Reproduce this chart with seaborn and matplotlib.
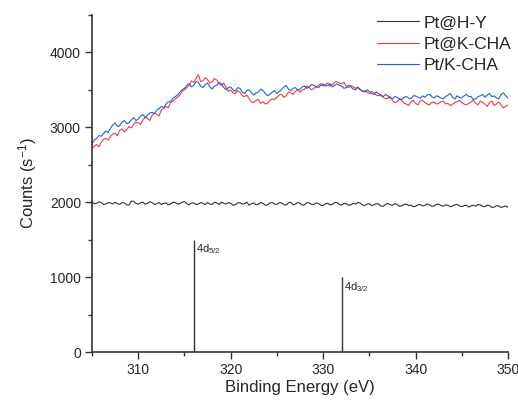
import numpy as np
import pandas as pd
import matplotlib
matplotlib.use("Agg")
import matplotlib.pyplot as plt
import seaborn as sns
from matplotlib.ticker import MultipleLocator

# binding energy grid (eV), 0.25 eV steps
energy = np.linspace(305, 350, 181)

pt_hy = [
    2000, 1980, 1985, 2005, 1995, 1970, 1975, 1995, 1990, 1975,
    2000, 1980, 1970, 1995, 1990, 1965, 1960, 2015, 2010, 1985,
    1975, 1990, 2000, 1975, 1985, 2005, 1995, 1970, 1980, 1995,
    1970, 1985, 1990, 1965, 1975, 2000, 1995, 1975, 1980, 2000,
    2010, 1980, 1965, 1990, 1990, 1970, 1975, 1995, 1985, 1970,
    1995, 1975, 1970, 2000, 1990, 1970, 2000, 1985, 1975, 1995,
    1985, 1960, 1965, 1990, 1995, 1975, 1980, 2000, 1960, 1980,
    1990, 1965, 1975, 1995, 1985, 1960, 1965, 1990, 1995, 1975,
    1970, 1995, 1990, 1970, 1960, 1990, 2000, 1965, 1975, 1995,
    1985, 1960, 1965, 1995, 1990, 1970, 1970, 1990, 1980, 1960,
    1955, 1980, 1985, 1965, 1970, 1995, 1995, 1970, 1960, 1985,
    1980, 1960, 1965, 1985, 1975, 1995, 1990, 1965, 1955, 1975,
    1980, 1955, 1965, 1980, 1975, 1950, 1945, 1970, 1985, 1965,
    1960, 1980, 1970, 1945, 1950, 1970, 1975, 1955, 1960, 1940,
    1945, 1965, 1970, 1950, 1955, 1975, 1965, 1945, 1950, 1970,
    1975, 1955, 1945, 1965, 1960, 1940, 1950, 1965, 1970, 1950,
    1940, 1955, 1960, 1935, 1950, 1960, 1945, 1970, 1965, 1945,
    1940, 1960, 1955, 1930, 1935, 1955, 1950, 1930, 1940, 1950,
    1930,
]

pt_kcha = [
    2710, 2750, 2770, 2740, 2800, 2840, 2850, 2830, 2880, 2910,
    2920, 2890, 2960, 2980, 2940, 2970, 3010, 2990, 3040, 3070,
    3060, 3040, 3100, 3130, 3120, 3090, 3160, 3190, 3170, 3150,
    3230, 3250, 3280, 3260, 3330, 3350, 3380, 3400, 3430, 3480,
    3500, 3530, 3560, 3620, 3600, 3650, 3700, 3610, 3620, 3660,
    3640, 3590, 3610, 3650, 3630, 3580, 3560, 3590, 3530, 3480,
    3500, 3460, 3450, 3490, 3470, 3420, 3410, 3430, 3380, 3340,
    3330, 3360, 3370, 3320, 3340, 3310, 3320, 3360, 3380, 3370,
    3400, 3430, 3440, 3400, 3420, 3470, 3460, 3440, 3480, 3500,
    3470, 3500, 3510, 3550, 3530, 3500, 3520, 3540, 3560, 3580,
    3550, 3570, 3590, 3550, 3570, 3600, 3610, 3590, 3580, 3600,
    3550, 3530, 3560, 3540, 3520, 3540, 3500, 3480, 3490, 3470,
    3450, 3480, 3460, 3430, 3420, 3440, 3400, 3380, 3390, 3410,
    3360, 3330, 3340, 3380, 3360, 3320, 3310, 3290, 3340, 3360,
    3320, 3300, 3350, 3360, 3330, 3310, 3300, 3330, 3340, 3310,
    3320, 3340, 3350, 3310, 3320, 3290, 3310, 3330, 3340, 3360,
    3330, 3310, 3300, 3320, 3340, 3360, 3320, 3300, 3350, 3330,
    3310, 3280, 3330, 3350, 3290, 3310, 3340, 3300, 3260, 3280,
    3300,
]

pt_on_kcha = [
    2780, 2830, 2850, 2890, 2880, 2920, 2950, 2930, 2990, 3030,
    3060, 3010, 3020, 3070, 3090, 3050, 3060, 3100, 3130, 3090,
    3110, 3150, 3170, 3130, 3160, 3190, 3200, 3180, 3230, 3250,
    3280, 3260, 3310, 3340, 3340, 3390, 3410, 3430, 3470, 3500,
    3520, 3560, 3580, 3540, 3560, 3610, 3600, 3550, 3530, 3570,
    3590, 3540, 3510, 3550, 3560, 3600, 3580, 3530, 3500, 3530,
    3540, 3500, 3480, 3530, 3520, 3470, 3450, 3490, 3500, 3460,
    3430, 3460, 3470, 3510, 3490, 3450, 3420, 3440, 3470, 3490,
    3450, 3480, 3500, 3540, 3560, 3510, 3490, 3520, 3530, 3500,
    3510, 3540, 3550, 3520, 3540, 3570, 3560, 3540, 3530, 3560,
    3580, 3550, 3560, 3580, 3540, 3560, 3580, 3560, 3550, 3520,
    3530, 3560, 3540, 3510, 3500, 3530, 3510, 3480, 3470, 3500,
    3480, 3450, 3440, 3470, 3450, 3420, 3410, 3440, 3420, 3390,
    3380, 3410, 3400, 3380, 3370, 3400, 3410, 3390, 3380, 3420,
    3420, 3400, 3390, 3420, 3400, 3430, 3440, 3410, 3390, 3420,
    3410, 3390, 3380, 3410, 3430, 3450, 3400, 3380, 3420, 3400,
    3390, 3420, 3440, 3410, 3410, 3370, 3380, 3410, 3420, 3440,
    3400, 3430, 3450, 3410, 3420, 3390, 3380, 3440, 3460, 3420,
    3390,
]

series_names = ["Pt@H-Y", "Pt@K-CHA", "Pt/K-CHA"]
series_colors = ["#333333", "#f23a3a", "#1f63d9"]

# reference Pt 4d lines
ref_labels = ["4d$_{5/2}$", "4d$_{3/2}$"]
ref_pos = [316.0, 332.0]
ref_height = [1500, 1000]

df = pd.DataFrame({
    "energy": np.tile(energy, 3),
    "counts": pt_hy + pt_kcha + pt_on_kcha,
    "sample": np.repeat(series_names, len(energy)),
})

sns.set_style("ticks")
plt.rcParams["font.family"] = ["Liberation Sans", "DejaVu Sans"]
plt.rcParams["mathtext.default"] = "regular"

fig = plt.figure(figsize=(5.18, 4.04), dpi=100)
ax = fig.add_axes([0.1776, 0.1287, 0.8031, 0.8343])

sns.lineplot(data=df, x="energy", y="counts", hue="sample", hue_order=series_names,
             palette=series_colors, linewidth=0.8, sort=False, estimator=None, ax=ax)

ax.vlines(ref_pos, 0, ref_height, color="#333333", linewidth=1.0)
for lab, xp, h in zip(ref_labels, ref_pos, ref_height):
    ax.text(xp + 0.3, h - 40, lab, fontsize=8, va="top", ha="left", color="#222222")

ax.set_xlim(305, 350)
ax.xaxis.set_major_locator(MultipleLocator(10))
ax.xaxis.set_minor_locator(MultipleLocator(5))
ax.yaxis.set_major_locator(MultipleLocator(1000))
ax.yaxis.set_minor_locator(MultipleLocator(500))
ax.set_ylim(0, 4500)

ax.set_xlabel("Binding Energy (eV)", fontsize=12, labelpad=2)
ax.set_ylabel("Counts (s$^{-1}$)", fontsize=12, labelpad=8)
ax.tick_params(which="major", length=5, width=1.0, labelsize=10, color="#333333", pad=3)
ax.tick_params(which="minor", length=3, width=1.0, color="#333333")
sns.despine(ax=ax)
for side in ["left", "bottom"]:
    ax.spines[side].set_color("#333333")
    ax.spines[side].set_linewidth(1.2)

ax.legend(frameon=False, fontsize=12.5, handlelength=2.4, handletextpad=0.3,
          labelspacing=0.35, loc="upper right", bbox_to_anchor=(0.988, 0.962),
          bbox_transform=fig.transFigure, borderaxespad=0, borderpad=0)

fig.savefig("out.png", dpi=100)
